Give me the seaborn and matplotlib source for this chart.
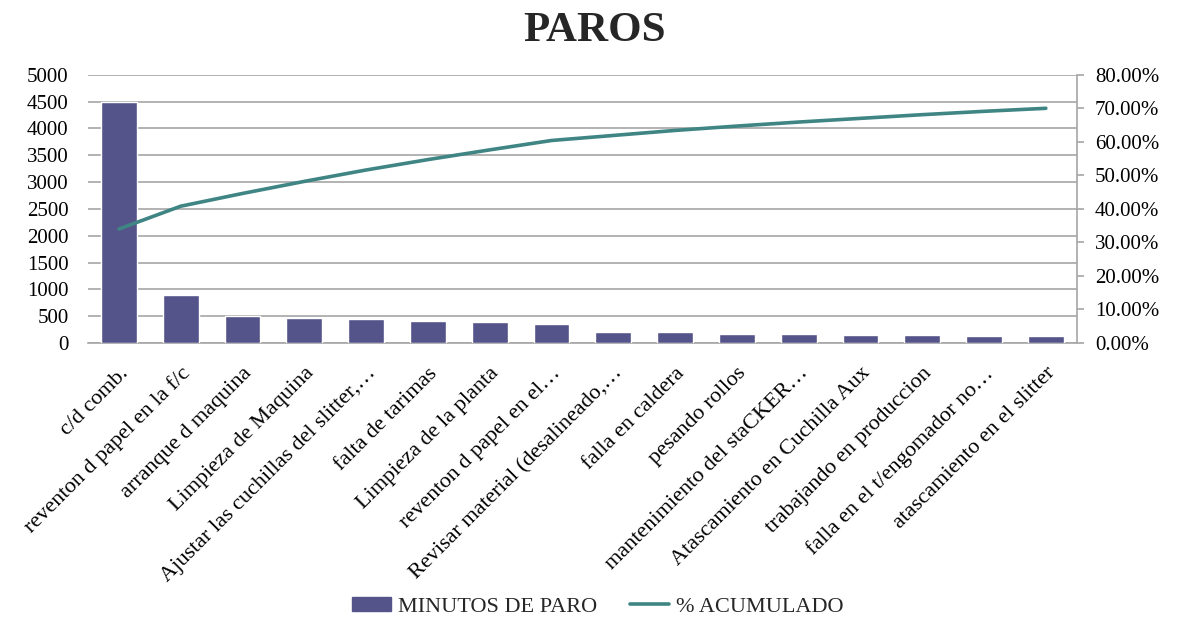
import numpy as np
import pandas as pd
import matplotlib
matplotlib.use("Agg")
import matplotlib.pyplot as plt
from matplotlib.patches import Patch
from matplotlib.lines import Line2D
from matplotlib.ticker import FuncFormatter, MultipleLocator
import seaborn as sns

categories = [
    "c/d comb.",
    "reventon d papel en la f/c",
    "arranque d maquina",
    "Limpieza de Maquina",
    "Ajustar las cuchillas del slitter,…",
    "falta de tarimas",
    "Limpieza de la planta",
    "reventon d papel en el…",
    "Revisar material (desalineado,…",
    "falla en caldera",
    "pesando rollos",
    "mantenimiento del staCKER…",
    "Atascamiento en Cuchilla Aux",
    "trabajando en produccion",
    "falla en el t/engomador no…",
    "atascamiento en el slitter",
]
minutos = [4500, 900, 500, 470, 450, 410, 390, 350, 205, 205, 168, 168, 143, 143, 125, 125]
acumulado = [34.0, 40.8, 44.6, 48.2, 51.6, 54.7, 57.6, 60.4,
             61.9, 63.4, 64.7, 65.9, 67.0, 68.1, 69.1, 70.0]

bar_label = "MINUTOS DE PARO"
line_label = "% ACUMULADO"
title = "PAROS"

bar_color = "#55548A"
line_color = "#3F8584"
grid_color = "#A6A6A6"

sns.set_theme(style="white")
plt.rcParams["font.family"] = ["Liberation Serif", "DejaVu Serif"]

df = pd.DataFrame({"cat": categories, "min": minutos, "pct": acumulado})
df["pos"] = np.arange(len(df))

fig = plt.figure(figsize=(11.77, 6.18), dpi=100)
ax = fig.add_axes([0.0748, 0.445, 0.840, 0.434])

sns.barplot(data=df, x="cat", y="min", color=bar_color, saturation=1,
            width=0.58, ax=ax, zorder=3)
ax.set_ylim(0, 5000)
ax.yaxis.set_major_locator(MultipleLocator(500))
ax.set_xlim(-0.5, len(df) - 0.5)
ax.grid(axis="y", color=grid_color, linewidth=1.2, zorder=0)
ax.set_axisbelow(True)
ax.set_xlabel("")
ax.set_ylabel("")
for s in ["top", "left", "right"]:
    ax.spines[s].set_visible(False)
ax.spines["bottom"].set_color(grid_color)
ax.spines["bottom"].set_linewidth(1.2)
ax.tick_params(axis="y", length=0, labelsize=15, pad=14, colors="black")
ax.tick_params(axis="x", length=0, labelsize=16, pad=15, colors="black")
ax.set_xticks(df["pos"])
ax.set_xticklabels(categories, rotation=45, ha="right", rotation_mode="anchor")

ax2 = ax.twinx()
sns.lineplot(data=df, x="pos", y="pct", color=line_color, linewidth=2.6,
             ax=ax2, zorder=4)
ax2.set_ylim(0, 80)
ax2.yaxis.set_major_locator(MultipleLocator(10))
ax2.yaxis.set_major_formatter(FuncFormatter(lambda v, p: f"{v:.2f}%"))
ax2.set_xlim(-0.5, len(df) - 0.5)
ax2.set_ylabel("")
ax2.set_xlabel("")
for s in ["top", "left", "bottom"]:
    ax2.spines[s].set_visible(False)
ax2.spines["right"].set_color(grid_color)
ax2.spines["right"].set_linewidth(1.2)
ax2.tick_params(axis="y", direction="out", length=5, width=1.2, color=grid_color,
                labelsize=15, pad=8, labelcolor="black")

fig.suptitle(title, x=0.505, y=0.98, fontsize=31, fontweight="bold")

handles = [Patch(facecolor=bar_color, edgecolor=bar_color),
           Line2D([0], [0], color=line_color, linewidth=2.6)]
fig.legend(handles, [bar_label, line_label], loc="center", ncol=2,
           bbox_to_anchor=(0.508, 0.018), frameon=False, fontsize=16,
           handlelength=1.75, handleheight=0.6, handletextpad=0.3,
           columnspacing=1.5)

fig.savefig("out.png", dpi=100)
